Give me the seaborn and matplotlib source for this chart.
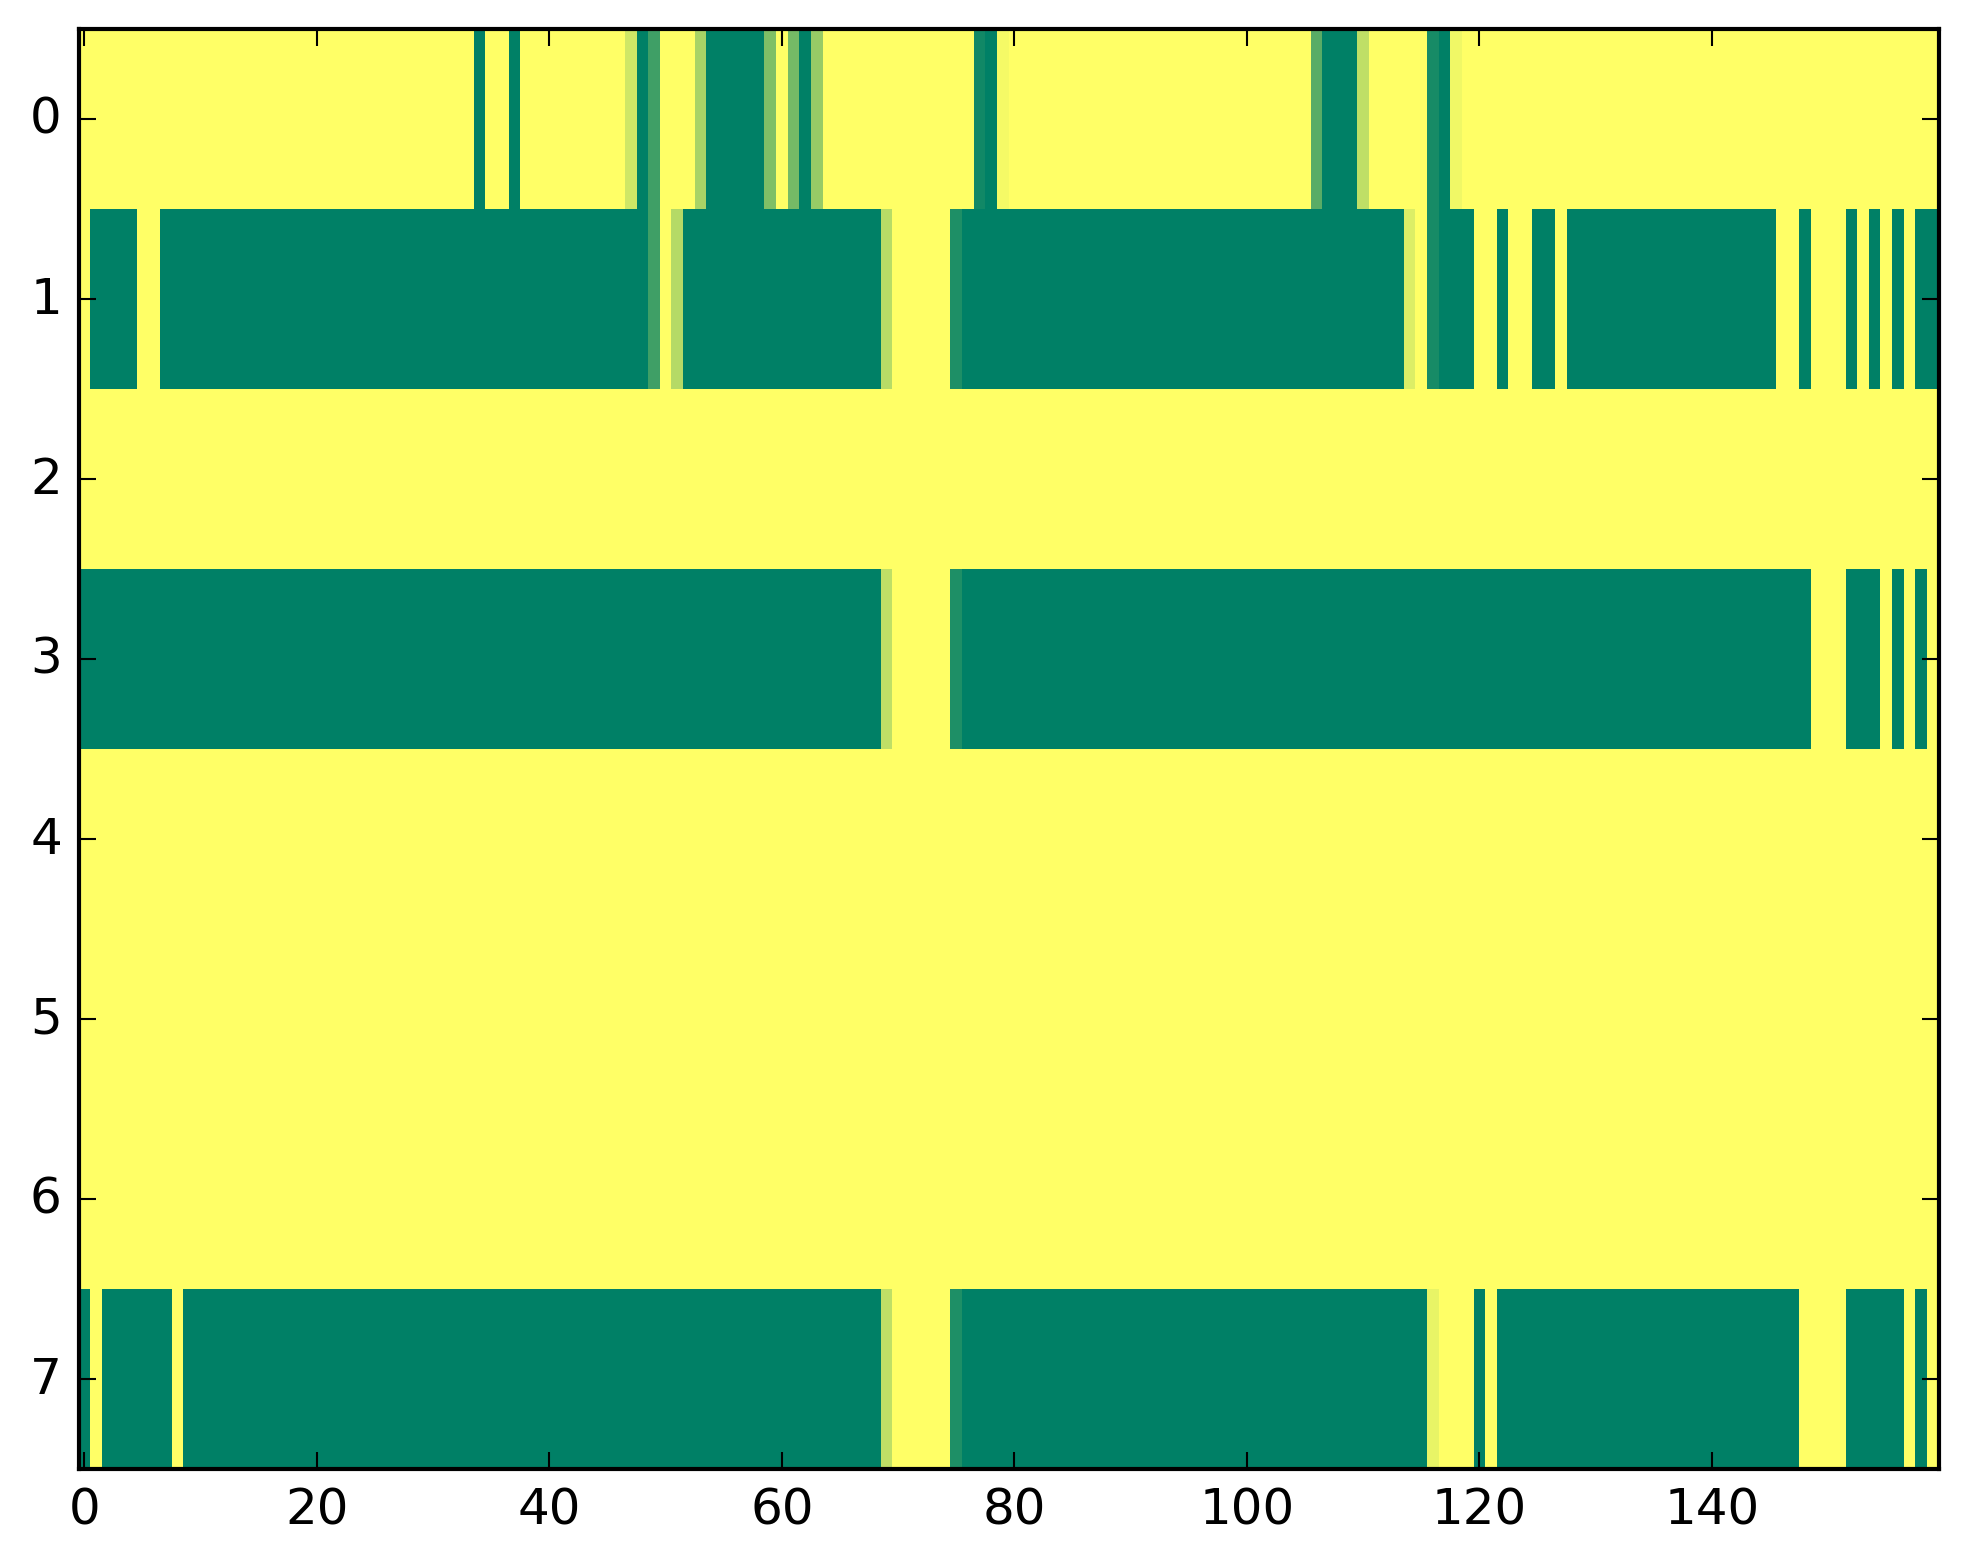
import numpy as np
import matplotlib
matplotlib.use("Agg")
import matplotlib.pyplot as plt
import seaborn as sns

# valores: 8 linhas x 160 colunas (0 = amarelo, 1 = verde)
linha_0 = [
    0, 0, 0, 0, 0, 0, 0, 0, 0, 0, 0, 0, 0, 0, 0, 0, 0, 0, 0, 0,
    0, 0, 0, 0, 0, 0, 0, 0, 0, 0, 0, 0, 0, 0, 1, 0, 0, 1, 0, 0,
    0, 0, 0, 0, 0, 0, 0, 0.19, 1, 0.75, 0, 0, 0, 0.34, 1, 1, 1, 1, 1, 0.5,
    0, 0.54, 1, 0.41, 0, 0, 0, 0, 0, 0, 0, 0, 0, 0, 0, 0, 0, 0.93, 1, 0.04,
    0, 0, 0, 0, 0, 0, 0, 0, 0, 0, 0, 0, 0, 0, 0, 0, 0, 0, 0, 0,
    0, 0, 0, 0, 0, 0, 0.65, 1, 1, 1, 0.25, 0, 0, 0, 0, 0, 0.91, 1, 0.06, 0,
    0, 0, 0, 0, 0, 0, 0, 0, 0, 0, 0, 0, 0, 0, 0, 0, 0, 0, 0, 0,
    0, 0, 0, 0, 0, 0, 0, 0, 0, 0, 0, 0, 0, 0, 0, 0, 0, 0, 0, 0,
]
linha_1 = [
    0, 1, 1, 1, 1, 0, 0, 1, 1, 1, 1, 1, 1, 1, 1, 1, 1, 1, 1, 1,
    1, 1, 1, 1, 1, 1, 1, 1, 1, 1, 1, 1, 1, 1, 1, 1, 1, 1, 1, 1,
    1, 1, 1, 1, 1, 1, 1, 1, 1, 0.75, 0, 0.29, 1, 1, 1, 1, 1, 1, 1, 1,
    1, 1, 1, 1, 1, 1, 1, 1, 1, 0.28, 0, 0, 0, 0, 0, 0.88, 1, 1, 1, 1,
    1, 1, 1, 1, 1, 1, 1, 1, 1, 1, 1, 1, 1, 1, 1, 1, 1, 1, 1, 1,
    1, 1, 1, 1, 1, 1, 1, 1, 1, 1, 1, 1, 1, 1, 0.14, 0, 0.91, 1, 1, 1,
    0, 0, 1, 0, 0, 1, 1, 0, 1, 1, 1, 1, 1, 1, 1, 1, 1, 1, 1, 1,
    1, 1, 1, 1, 1, 1, 0, 0, 1, 0, 0, 0, 1, 0, 1, 0, 1, 0, 1, 1,
]
linha_2 = [
    0, 0, 0, 0, 0, 0, 0, 0, 0, 0, 0, 0, 0, 0, 0, 0, 0, 0, 0, 0,
    0, 0, 0, 0, 0, 0, 0, 0, 0, 0, 0, 0, 0, 0, 0, 0, 0, 0, 0, 0,
    0, 0, 0, 0, 0, 0, 0, 0, 0, 0, 0, 0, 0, 0, 0, 0, 0, 0, 0, 0,
    0, 0, 0, 0, 0, 0, 0, 0, 0, 0, 0, 0, 0, 0, 0, 0, 0, 0, 0, 0,
    0, 0, 0, 0, 0, 0, 0, 0, 0, 0, 0, 0, 0, 0, 0, 0, 0, 0, 0, 0,
    0, 0, 0, 0, 0, 0, 0, 0, 0, 0, 0, 0, 0, 0, 0, 0, 0, 0, 0, 0,
    0, 0, 0, 0, 0, 0, 0, 0, 0, 0, 0, 0, 0, 0, 0, 0, 0, 0, 0, 0,
    0, 0, 0, 0, 0, 0, 0, 0, 0, 0, 0, 0, 0, 0, 0, 0, 0, 0, 0, 0,
]
linha_3 = [
    1, 1, 1, 1, 1, 1, 1, 1, 1, 1, 1, 1, 1, 1, 1, 1, 1, 1, 1, 1,
    1, 1, 1, 1, 1, 1, 1, 1, 1, 1, 1, 1, 1, 1, 1, 1, 1, 1, 1, 1,
    1, 1, 1, 1, 1, 1, 1, 1, 1, 1, 1, 1, 1, 1, 1, 1, 1, 1, 1, 1,
    1, 1, 1, 1, 1, 1, 1, 1, 1, 0.25, 0, 0, 0, 0, 0, 0.88, 1, 1, 1, 1,
    1, 1, 1, 1, 1, 1, 1, 1, 1, 1, 1, 1, 1, 1, 1, 1, 1, 1, 1, 1,
    1, 1, 1, 1, 1, 1, 1, 1, 1, 1, 1, 1, 1, 1, 1, 1, 1, 1, 1, 1,
    1, 1, 1, 1, 1, 1, 1, 1, 1, 1, 1, 1, 1, 1, 1, 1, 1, 1, 1, 1,
    1, 1, 1, 1, 1, 1, 1, 1, 1, 0, 0, 0, 1, 1, 1, 0, 1, 0, 1, 0,
]
linha_4 = list(linha_2)
linha_5 = list(linha_2)
linha_6 = list(linha_2)
linha_7 = [
    1, 0, 1, 1, 1, 1, 1, 1, 0, 1, 1, 1, 1, 1, 1, 1, 1, 1, 1, 1,
    1, 1, 1, 1, 1, 1, 1, 1, 1, 1, 1, 1, 1, 1, 1, 1, 1, 1, 1, 1,
    1, 1, 1, 1, 1, 1, 1, 1, 1, 1, 1, 1, 1, 1, 1, 1, 1, 1, 1, 1,
    1, 1, 1, 1, 1, 1, 1, 1, 1, 0.25, 0, 0, 0, 0, 0, 0.88, 1, 1, 1, 1,
    1, 1, 1, 1, 1, 1, 1, 1, 1, 1, 1, 1, 1, 1, 1, 1, 1, 1, 1, 1,
    1, 1, 1, 1, 1, 1, 1, 1, 1, 1, 1, 1, 1, 1, 1, 1, 0.09, 0, 0, 0,
    1, 0, 1, 1, 1, 1, 1, 1, 1, 1, 1, 1, 1, 1, 1, 1, 1, 1, 1, 1,
    1, 1, 1, 1, 1, 1, 1, 1, 0, 0, 0, 0, 1, 1, 1, 1, 1, 0, 1, 0,
]

linhas = [linha_0, linha_1, linha_2, linha_3, linha_4, linha_5, linha_6, linha_7]
rotulos_x = [0, 20, 40, 60, 80, 100, 120, 140]
rotulos_y = [0, 1, 2, 3, 4, 5, 6, 7]

matriz = np.array(linhas, dtype=float)

plt.style.use("classic")
fig, ax = plt.subplots(figsize=(8, 6))

sns.heatmap(matriz, cmap="summer_r", vmin=0, vmax=1, cbar=False,
            xticklabels=False, yticklabels=False, ax=ax)

# eixos no estilo imshow: ticks no centro das celulas
ax.set_xticks([c + 0.5 for c in rotulos_x])
ax.set_xticklabels([str(c) for c in rotulos_x], rotation=0)
ax.set_yticks([r + 0.5 for r in rotulos_y])
ax.set_yticklabels([str(r) for r in rotulos_y], rotation=0, va="center")

for s in ax.spines.values():
    s.set_visible(True)
    s.set_linewidth(1.0)
    s.set_color("black")

ax.tick_params(direction="in", top=True, right=True, length=4, width=0.5,
               labelsize=12, pad=4)

plt.savefig("out.png", dpi=300, bbox_inches="tight")
plt.close()
